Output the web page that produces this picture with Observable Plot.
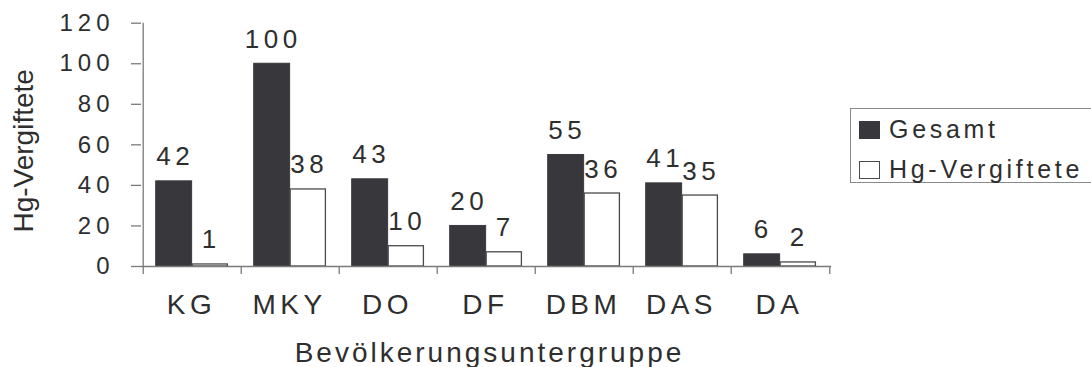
<!DOCTYPE html>
<html>
<head>
<meta charset="utf-8">
<script src="https://cdn.jsdelivr.net/npm/d3@7"></script>
<script src="https://cdn.jsdelivr.net/npm/@observablehq/plot@0.6"></script>
<style>
  body { margin: 0; background: #fff; }
  #chart { position: relative; width: 1091px; height: 367px; overflow: hidden;
           font-family: "Liberation Sans", Arial, sans-serif; color: #2e2e2e; }
  #chart svg { display: block; }
  .legend { position: absolute; left: 850px; top: 108px; width: 270px; height: 75px;
            box-sizing: border-box; border: 1.5px solid #8a8a8a; background: #fff; }
  .legend .row { position: absolute; left: 8px; display: flex; align-items: center;
                 font-size: 25px; letter-spacing: 3.7px; line-height: 1; color: #2e2e2e; white-space: nowrap; }
  .legend .sw { width: 21px; height: 18px; box-sizing: border-box; margin-right: 9px; }
</style>
</head>
<body>
<div id="chart"></div>
<script>
// Bevölkerungsuntergruppen and their counts
const groups = ["KG", "MKY", "DO", "DF", "DBM", "DAS", "DA"];
const gesamt = [42, 100, 43, 20, 55, 41, 6];
const vergiftete = [1, 38, 10, 7, 36, 35, 2];
const seriesNames = ["Gesamt", "Hg-Vergiftete"];
const yTicks = [0, 20, 40, 60, 80, 100, 120];
const xTitle = "Bevölkerungsuntergruppe";
const yTitle = "Hg-Vergiftete";

const rowsGesamt = groups.map((g, i) => ({group: g, series: seriesNames[0], value: gesamt[i]}));
const rowsHg = groups.map((g, i) => ({group: g, series: seriesNames[1], value: vergiftete[i]}));

const W = 1091, H = 367;
const mL = 141, mR = 260, mT = 22.7, mB = 101;
const bw = (W - mL - mR) / groups.length;   // band width per group

// placement of the two bars inside each band
const gLeft = 12.7, gRight = bw - 49.2;
const hLeft = 49.2, hRight = 13.6;
const gCenter = (gLeft + (bw - gRight)) / 2 - bw / 2;
const hCenter = (hLeft + (bw - hRight)) / 2 - bw / 2;

const ink = "#2e2e2e";
const axisColor = "#7a7a7a";
const dark = "#38373c";

const chart = Plot.plot({
  width: W, height: H,
  marginLeft: mL, marginRight: mR, marginTop: mT, marginBottom: mB,
  x: {domain: groups, padding: 0, label: null},
  y: {domain: [0, 120], label: null},
  style: {fontFamily: '"Liberation Sans", Arial, sans-serif', color: ink, background: "#fff", overflow: "visible"},
  marks: [
    Plot.barY(rowsGesamt, {x: "group", y: "value", fill: dark, stroke: "#3a3a3e", strokeWidth: 1,
                           insetLeft: gLeft, insetRight: gRight}),
    Plot.barY(rowsHg, {x: "group", y: "value", fill: "#fff", stroke: "#4a4a4a", strokeWidth: 1.3,
                       insetLeft: hLeft, insetRight: hRight}),
    // axis lines
    Plot.ruleY([0], {stroke: axisColor, strokeWidth: 1.3}),
    Plot.ruleX([groups[0]], {x: d => d, y1: 0, y2: 120, dx: -bw / 2, stroke: axisColor, strokeWidth: 1.3}),
    // y ticks and labels
    Plot.axisY(yTicks, {anchor: "left", tickSize: 10, tickPadding: 17, fontSize: 24, fill: ink,
                        stroke: axisColor, strokeWidth: 1.3, label: null}),
    // x ticks on the band boundaries
    Plot.axisX(groups, {anchor: "bottom", tickSize: 8, dx: -bw / 2, tickFormat: () => "",
                        stroke: axisColor, strokeWidth: 1.3, label: null}),
    Plot.axisX([groups[groups.length - 1]], {anchor: "bottom", tickSize: 8, dx: bw / 2, tickFormat: () => "",
                        stroke: axisColor, strokeWidth: 1.3, label: null}),
    // group names
    Plot.axisX(groups, {anchor: "bottom", tickSize: 0, tickPadding: 28, fontSize: 28, fill: ink, dx: -1,
                        label: null, ariaDescription: "groups"}),
    // value labels
    Plot.text(rowsGesamt, {x: "group", y: "value", text: d => String(d.value), lineAnchor: "bottom",
                           dy: -16, dx: gCenter + 1, fontSize: 26, fill: ink, ariaDescription: "spaced"}),
    Plot.text(rowsHg, {x: "group", y: "value", text: d => String(d.value), lineAnchor: "bottom",
                       dy: -16, dx: hCenter + 1, fontSize: 26, fill: ink, ariaDescription: "spaced"}),
    // axis titles
    Plot.text([xTitle], {frameAnchor: "bottom", text: d => d, lineAnchor: "bottom", dy: 95, dx: 3,
                         fontSize: 28, fill: ink, ariaDescription: "xtitle"}),
    Plot.text([yTitle], {frameAnchor: "left", text: d => d, rotate: -90, textAnchor: "middle",
                         lineAnchor: "bottom", dx: -109, dy: 6, fontSize: 28, fill: ink})
  ]
});

const svg = d3.select(chart);
svg.selectAll('g[aria-label="y-axis tick label"] text').attr("letter-spacing", "5px");
svg.selectAll('g[aria-description="groups"] text').attr("letter-spacing", "4.5px");
svg.selectAll('g[aria-description="spaced"] text').attr("letter-spacing", "4.5px");
svg.selectAll('g[aria-description="xtitle"] text').attr("letter-spacing", "3px");

const root = document.getElementById("chart");
root.appendChild(chart);

// legend
const legend = document.createElement("div");
legend.className = "legend";
const swatches = [{fill: dark, stroke: dark}, {fill: "#fff", stroke: "#4a4a4a"}];
seriesNames.forEach((name, i) => {
  const row = document.createElement("div");
  row.className = "row";
  row.style.top = (i === 0 ? 8 : 48) + "px";
  const sw = document.createElement("span");
  sw.className = "sw";
  sw.style.background = swatches[i].fill;
  sw.style.border = "1.3px solid " + swatches[i].stroke;
  const label = document.createElement("span");
  label.textContent = name;
  row.appendChild(sw);
  row.appendChild(label);
  legend.appendChild(row);
});
root.appendChild(legend);
</script>
</body>
</html>
